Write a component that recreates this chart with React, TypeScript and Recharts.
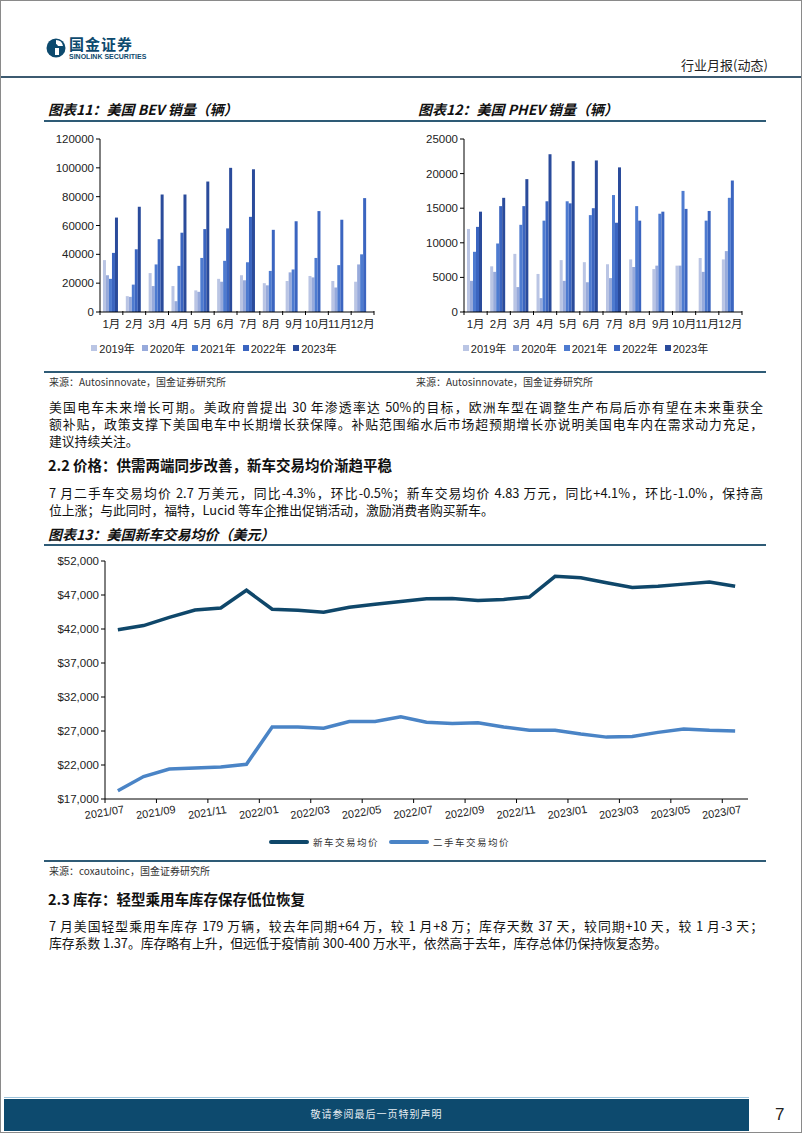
import React from 'react';
import { BarChart, Bar, XAxis, YAxis, Legend, LineChart, Line } from 'recharts';

const months = ['1月', '2月', '3月', '4月', '5月', '6月', '7月', '8月', '9月', '10月', '11月', '12月'];
const yearNames = ['2019年', '2020年', '2021年', '2022年', '2023年'];

const bev2019 = [36000, 11000, 27000, 18000, 15000, 23000, 25500, 20000, 21500, 25000, 21500, 21000];
const bev2020 = [25500, 10500, 18000, 7500, 14000, 21000, 22000, 18500, 27500, 24000, 17000, 33000];
const bev2021 = [23000, 19000, 33000, 32000, 37500, 35500, 34500, 28500, 29500, 37500, 32500, 40000];
const bev2022 = [41000, 43500, 50500, 55000, 57500, 58000, 66000, 57000, 63000, 70000, 64000, 79000];
const bev2023 = [65500, 73000, 81500, 81500, 90500, 100000, 99000, null, null, null, null, null];

const phev2019 = [12000, 6600, 8400, 5500, 7500, 7200, 6900, 7600, 6200, 6700, 7800, 7600];
const phev2020 = [4500, 5800, 3600, 2000, 4500, 4300, 4900, 6500, 6700, 6700, 5800, 8800];
const phev2021 = [8700, 9900, 12600, 13200, 16000, 14000, 16900, 15300, 14200, 17500, 13200, 16500];
const phev2022 = [12300, 15300, 15300, 16000, 15700, 15000, 12900, 13200, 14500, 14900, 14600, 19000];
const phev2023 = [14500, 16500, 19200, 22800, 21800, 21900, 20900, null, null, null, null, null];

const bevTicks = [0, 20000, 40000, 60000, 80000, 100000, 120000];
const phevTicks = [0, 5000, 10000, 15000, 20000, 25000];

const priceMonths = [
  '2021/07', '2021/08', '2021/09', '2021/10', '2021/11', '2021/12',
  '2022/01', '2022/02', '2022/03', '2022/04', '2022/05', '2022/06',
  '2022/07', '2022/08', '2022/09', '2022/10', '2022/11', '2022/12',
  '2023/01', '2023/02', '2023/03', '2023/04', '2023/05', '2023/06', '2023/07',
];
const newCarPrice = [41900, 42500, 43700, 44800, 45100, 47700, 44900, 44750, 44450, 45200, 45650, 46050, 46450, 46500, 46200, 46350, 46700, 49750, 49550, 48800, 48100, 48300, 48600, 48900, 48300];
const usedCarPrice = [18200, 20300, 21400, 21550, 21700, 22100, 27600, 27600, 27400, 28400, 28400, 29100, 28300, 28100, 28200, 27600, 27100, 27100, 26550, 26100, 26200, 26800, 27300, 27100, 27000];
const priceTicks = [17000, 22000, 27000, 32000, 37000, 42000, 47000, 52000];
const priceXTicks = [0, 2, 4, 6, 8, 10, 12, 14, 16, 18, 20, 22, 24];
const priceSeries = ['新车交易均价', '二手车交易均价'];

const yearColors = ['#BAC5E4', '#97AADB', '#4E7BD0', '#3B65C0', '#2A4B9B'];
const priceColors = ['#0F476A', '#4A84C6'];

const bevData = months.map((m, i) => ({
  month: m,
  y2019: bev2019[i], y2020: bev2020[i], y2021: bev2021[i], y2022: bev2022[i], y2023: bev2023[i],
}));
const phevData = months.map((m, i) => ({
  month: m,
  y2019: phev2019[i], y2020: phev2020[i], y2021: phev2021[i], y2022: phev2022[i], y2023: phev2023[i],
}));
const priceData = priceMonths.map((m, i) => ({ x: i + 0.5, label: m, newCar: newCarPrice[i], usedCar: usedCarPrice[i] }));

const yearKeys = ['y2019', 'y2020', 'y2021', 'y2022', 'y2023'];

const NUM_FONT = '"Liberation Sans", Arial, "Noto Sans CJK SC", sans-serif';
const CJK_FONT = '"Noto Sans CJK SC", "Liberation Sans", sans-serif';

const MonthTick = (props: any) => {
  const { x, y, payload, index, plotWidth } = props;
  const half = payload && payload.offset ? payload.offset : plotWidth / 24;
  const last = index === months.length - 1;
  return (
    <g>
      <line x1={x - half} x2={x - half} y1={y - 1} y2={y + 3} stroke="#000" strokeWidth={1} />
      {last ? <line x1={x + half} x2={x + half} y1={y - 1} y2={y + 3} stroke="#000" strokeWidth={1} /> : null}
      <text x={x} y={y + 16} textAnchor="middle" fontSize={11.5} fill="#222" fontFamily={NUM_FONT}>
        {payload.value}
      </text>
    </g>
  );
};

const DateTick = (props: any) => {
  const { x, y, payload } = props;
  const label = priceMonths[payload.value] || '';
  return (
    <text
      x={x}
      y={y + 11}
      transform={`rotate(-9, ${x}, ${y + 11})`}
      textAnchor="middle"
      fontSize={11}
      fill="#222"
      fontFamily={NUM_FONT}
    >
      {label}
    </text>
  );
};

const BarLegend = (props: any) => {
  const { payload } = props;
  const items = [...(payload || [])].sort((a: any, b: any) => yearNames.indexOf(a.value) - yearNames.indexOf(b.value));
  return (
    <div style={{ display: 'flex', justifyContent: 'center', alignItems: 'center', height: 24, paddingLeft: 20, fontFamily: NUM_FONT, fontSize: 11, color: '#222' }}>
      {items.map((e: any, i: number) => (
        <div key={i} style={{ display: 'flex', alignItems: 'center', marginRight: 7 }}>
          <span style={{ display: 'inline-block', width: 6, height: 6, background: e.color, marginRight: 2 }} />
          <span>{e.value}</span>
        </div>
      ))}
    </div>
  );
};

const LineLegend = (props: any) => {
  const { payload } = props;
  const items = [...(payload || [])].sort((a: any, b: any) => priceSeries.indexOf(a.value) - priceSeries.indexOf(b.value));
  return (
    <div style={{ display: 'flex', justifyContent: 'center', alignItems: 'center', height: 26, fontFamily: CJK_FONT, fontSize: 9.5, color: '#333', letterSpacing: 1.5 }}>
      {items.map((e: any, i: number) => (
        <div key={i} style={{ display: 'flex', alignItems: 'center', marginRight: 10 }}>
          <span style={{ display: 'inline-block', width: 40, height: 4, background: e.color, marginRight: 4, borderRadius: 2 }} />
          <span>{e.value}</span>
        </div>
      ))}
    </div>
  );
};

const SalesChart = (props: any) => {
  const { data, ticks, max, yWidth, width, right } = props;
  const plotWidth = width - yWidth - right;
  return (
    <BarChart
      width={width}
      height={234}
      data={data}
      margin={{ top: 13, right: right, bottom: 0, left: 0 }}
      barCategoryGap="13%"
      barGap={0}
    >
      <XAxis
        dataKey="month"
        axisLine={{ stroke: '#000', strokeWidth: 1 }}
        tickLine={false}
        tickSize={0}
        tickMargin={0}
        height={24}
        interval={0}
        tick={<MonthTick plotWidth={plotWidth} />}
      />
      <YAxis
        domain={[0, max]}
        ticks={ticks}
        width={yWidth}
        axisLine={{ stroke: '#000', strokeWidth: 1 }}
        tickLine={{ stroke: '#000' }}
        tickSize={4}
        tick={{ fontSize: 11.5, fill: '#222', fontFamily: NUM_FONT }}
        interval={0}
      />
      <Legend verticalAlign="bottom" height={24} content={<BarLegend />} />
      {yearKeys.map((k, i) => (
        <Bar key={k} dataKey={k} name={yearNames[i]} fill={yearColors[i]} isAnimationActive={false} />
      ))}
    </BarChart>
  );
};

const Rule = ({ top, left = 43, width = 722, color = '#2E5B76', h = 1.5 }: any) => (
  <div style={{ position: 'absolute', top, left, width, height: h, background: color }} />
);

const Txt = ({ top, left, children, style }: any) => (
  <div style={{ position: 'absolute', top, left, whiteSpace: 'nowrap', fontFamily: CJK_FONT, lineHeight: 1.15, ...style }}>{children}</div>
);

const JLine = ({ top, children, last }: any) => (
  <div
    style={{
      position: 'absolute',
      top,
      left: 48,
      width: 714,
      height: 16,
      fontFamily: CJK_FONT,
      fontSize: 12.8,
      lineHeight: '16px',
      color: '#111',
      whiteSpace: 'nowrap',
      textAlign: last ? 'left' : 'justify',
      textAlignLast: last ? 'left' : 'justify',
    } as any}
  >
    {children}
  </div>
);

export default function App() {
  return (
    <div style={{ position: 'absolute', left: 0, top: 0, width: 802, height: 1133, background: '#fff', border: '1px solid #8a8a8a', boxSizing: 'border-box', overflow: 'hidden' }}>
      {/* header */}
      <svg style={{ position: 'absolute', left: 45, top: 35 }} width={22} height={24}>
        <circle cx={10} cy={12} r={9.5} fill="#0D4A6E" />
        <path d="M10 4 Q16 4 17 10 L12 10 Q11 8 10 8 Z" fill="#fff" />
        <rect x={9} y={12} width={4} height={7} fill="#fff" />
      </svg>
      <Txt top={35} left={68} style={{ fontSize: 15, fontWeight: 700, color: '#0D4A6E', letterSpacing: 1, lineHeight: '16px' }}>国金证券</Txt>
      <Txt top={52} left={68} style={{ fontSize: 7, fontWeight: 700, color: '#0D4A6E', fontFamily: NUM_FONT, lineHeight: '8px' }}>SINOLINK SECURITIES</Txt>
      <Txt top={57} left={680} style={{ fontSize: 13, color: '#222' }}>行业月报(动态)</Txt>
      <Rule top={75} left={0} width={802} color="#3C5A70" h={1.5} />

      {/* chart titles */}
      <Txt top={100} left={47} style={{ fontSize: 14, fontWeight: 700, fontStyle: 'italic', color: '#111' }}>图表11：美国 BEV 销量（辆）</Txt>
      <Txt top={100} left={417} style={{ fontSize: 14, fontWeight: 700, fontStyle: 'italic', color: '#111' }}>图表12：美国 PHEV 销量（辆）</Txt>
      <Rule top={119} />

      <div style={{ position: 'absolute', left: 40, top: 125 }}>
        <SalesChart data={bevData} ticks={bevTicks} max={120000} yWidth={59} width={345} right={12} />
      </div>
      <div style={{ position: 'absolute', left: 415, top: 125 }}>
        <SalesChart data={phevData} ticks={phevTicks} max={25000} yWidth={48} width={340} right={14} />
      </div>

      <Rule top={370} />
      <Txt top={375} left={48} style={{ fontSize: 10, color: '#333' }}>来源：Autosinnovate，国金证券研究所</Txt>
      <Txt top={375} left={415} style={{ fontSize: 10, color: '#333' }}>来源：Autosinnovate，国金证券研究所</Txt>

      <JLine top={398}>美国电车未来增长可期。美政府曾提出 30 年渗透率达 50%的目标，欧洲车型在调整生产布局后亦有望在未来重获全</JLine>
      <JLine top={415}>额补贴，政策支撑下美国电车中长期增长获保障。补贴范围缩水后市场超预期增长亦说明美国电车内在需求动力充足，</JLine>
      <JLine top={432} last>建议持续关注。</JLine>

      <Txt top={456} left={47} style={{ fontSize: 14.5, fontWeight: 700, color: '#111' }}>2.2 价格：供需两端同步改善，新车交易均价渐趋平稳</Txt>

      <JLine top={484}>7 月二手车交易均价 2.7 万美元，同比-4.3%，环比-0.5%；新车交易均价 4.83 万元，同比+4.1%，环比-1.0%，保持高</JLine>
      <JLine top={501} last>位上涨；与此同时，福特，Lucid 等车企推出促销活动，激励消费者购买新车。</JLine>

      <Txt top={525} left={47} style={{ fontSize: 14, fontWeight: 700, fontStyle: 'italic', color: '#111' }}>图表13：美国新车交易均价（美元）</Txt>
      <Rule top={543} />

      <div style={{ position: 'absolute', left: 40, top: 545 }}>
        <LineChart width={720} height={309} data={priceData} margin={{ top: 15, right: 13, bottom: 0, left: 0 }}>
          <XAxis
            dataKey="x"
            type="number"
            domain={[0, 25]}
            ticks={priceXTicks}
            interval={0}
            axisLine={{ stroke: '#000' }}
            tickLine={{ stroke: '#000' }}
            tickSize={4}
            height={30}
            tick={<DateTick />}
          />
          <YAxis
            domain={[17000, 52000]}
            ticks={priceTicks}
            interval={0}
            width={64}
            axisLine={{ stroke: '#000' }}
            tickLine={{ stroke: '#000' }}
            tickSize={4}
            tickFormatter={(v: number) => '$' + v.toLocaleString('en-US')}
            tick={{ fontSize: 11.5, fill: '#222', fontFamily: NUM_FONT }}
          />
          <Legend verticalAlign="bottom" height={26} content={<LineLegend />} />
          <Line dataKey="newCar" name={priceSeries[0]} stroke={priceColors[0]} strokeWidth={3.5} dot={false} isAnimationActive={false} />
          <Line dataKey="usedCar" name={priceSeries[1]} stroke={priceColors[1]} strokeWidth={3.5} dot={false} isAnimationActive={false} />
        </LineChart>
      </div>

      <Rule top={859} />
      <Txt top={864} left={48} style={{ fontSize: 10, color: '#333' }}>来源：coxautoinc，国金证券研究所</Txt>

      <Txt top={890} left={47} style={{ fontSize: 14.5, fontWeight: 700, color: '#111' }}>2.3 库存：轻型乘用车库存保存低位恢复</Txt>
      <JLine top={917}>7 月美国轻型乘用车库存 179 万辆，较去年同期+64 万，较 1 月+8 万；库存天数 37 天，较同期+10 天，较 1 月-3 天；</JLine>
      <JLine top={934} last>库存系数 1.37。库存略有上升，但远低于疫情前 300-400 万水平，依然高于去年，库存总体仍保持恢复态势。</JLine>

      {/* footer */}
      <div style={{ position: 'absolute', left: 3, top: 1096, width: 745, height: 1, background: '#9cc3dc' }} />
      <div style={{ position: 'absolute', left: 3, top: 1098, width: 745, height: 32, background: '#0D4A6E' }} />
      <Txt top={1107} left={3} style={{ width: 745, textAlign: 'center', fontSize: 10, color: '#e8eef3', letterSpacing: 1 }}>敬请参阅最后一页特别声明</Txt>
      <Txt top={1104} left={774} style={{ fontSize: 17, color: '#222', fontFamily: NUM_FONT }}>7</Txt>
    </div>
  );
}
